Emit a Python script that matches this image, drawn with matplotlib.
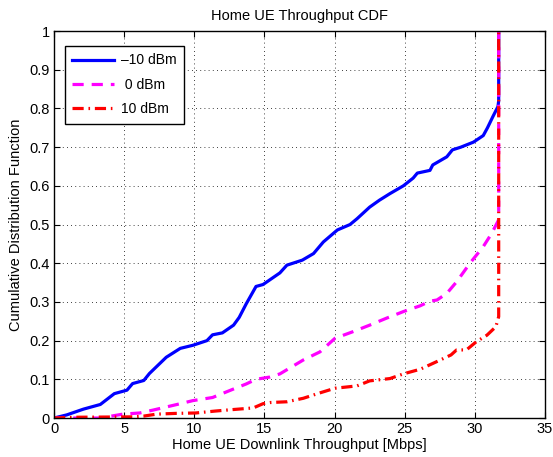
import matplotlib
matplotlib.use('Agg')
import matplotlib.pyplot as plt

plt.rcParams['font.family'] = ['Liberation Sans', 'DejaVu Sans']

# -10 dBm
x_m10 = [0, 0.9, 2.1, 3.3, 4.3, 5.2, 5.6, 6.4, 6.8, 8.0, 9.0, 9.9, 10.9, 11.3, 12.0,
         12.8, 13.2, 13.7, 14.4, 14.9, 16.1, 16.6, 17.7, 18.5, 19.2, 20.2, 21.1, 21.6,
         22.5, 23.2, 23.95, 24.9, 25.6, 25.9, 26.8, 27.0, 28.0, 28.4, 29.0, 29.9, 30.6,
         30.9, 31.3, 31.65, 31.7, 31.7]
y_m10 = [0, 0.008, 0.023, 0.035, 0.063, 0.072, 0.089, 0.097, 0.115, 0.157, 0.18, 0.188,
         0.2, 0.215, 0.22, 0.24, 0.26, 0.295, 0.34, 0.345, 0.375, 0.395, 0.408, 0.425,
         0.455, 0.486, 0.5, 0.515, 0.545, 0.563, 0.58, 0.6, 0.62, 0.633, 0.64, 0.654,
         0.675, 0.693, 0.70, 0.713, 0.73, 0.75, 0.78, 0.805, 0.82, 1.0]

# 0 dBm
x_0 = [0, 3.3, 4.9, 6.1, 7.0, 9.0, 9.9, 11.3, 12.8, 13.7, 14.4, 15.4, 16.1, 17.77,
       18.96, 20.03, 21.3, 22.5, 23.7, 24.9, 26.1, 26.8, 27.3, 28.0, 28.7, 29.65, 30.6,
       31.2, 31.67, 31.7, 31.7]
y_0 = [0, 0, 0.01, 0.013, 0.02, 0.037, 0.045, 0.053, 0.075, 0.088, 0.1, 0.106, 0.114,
       0.15, 0.171, 0.206, 0.223, 0.24, 0.258, 0.275, 0.29, 0.302, 0.305, 0.322, 0.352,
       0.4, 0.443, 0.477, 0.51, 0.53, 1.0]

# 10 dBm
x_10 = [0, 1.6, 5.6, 6.4, 7.3, 8.7, 10.1, 11.5, 12.8, 14.2, 14.9, 15.4, 16.6, 17.77,
        18.96, 20.03, 21.6, 22.5, 23.95, 24.9, 26.1, 27.3, 28.3, 28.7, 29.4, 30.1,
        30.86, 31.5, 31.7, 31.7]
y_10 = [0, 0.002, 0.003, 0.005, 0.01, 0.012, 0.013, 0.018, 0.022, 0.026, 0.037, 0.04,
        0.042, 0.051, 0.065, 0.077, 0.083, 0.096, 0.102, 0.114, 0.126, 0.146, 0.163,
        0.176, 0.176, 0.197, 0.214, 0.236, 0.262, 1.0]

labels = ['\u201310 dBm', ' 0 dBm', '10 dBm']

fig = plt.figure(figsize=(5.53, 4.57), dpi=100)
ax = fig.add_axes([0.0977, 0.0853, 0.8878, 0.8467])

ax.plot(x_m10, y_m10, color='#0000ff', lw=2.3, ls='-', label=labels[0])
ax.plot(x_0, y_0, color='#ff00ff', lw=2.3, ls=(0, (3.5, 2.5)), label=labels[1])
ax.plot(x_10, y_10, color='#ff0000', lw=2.3, ls=(0, (3.5, 1.5, 0.5, 1.5)), label=labels[2])

ax.set_xlim(0, 35)
ax.set_ylim(0, 1)
ax.set_xticks(range(0, 36, 5))
ax.set_yticks([i / 10 for i in range(11)])
ax.set_yticklabels(['0', '0.1', '0.2', '0.3', '0.4', '0.5', '0.6', '0.7', '0.8', '0.9', '1'])
ax.grid(True, color='black', ls=(0, (1, 4)), lw=0.6)
ax.tick_params(direction='in', top=True, right=True, labelsize=10.5, length=4, pad=3)
for s in ax.spines.values():
    s.set_linewidth(1.0)

ax.set_title('Home UE Throughput CDF', fontsize=10.5, pad=8)
ax.set_xlabel('Home UE Downlink Throughput [Mbps]', fontsize=10.5, labelpad=1)
ax.set_ylabel('Cumulative Distribution Function', fontsize=10.5, labelpad=5)

leg = ax.legend(loc='upper left', bbox_to_anchor=(0.022, 0.962), fontsize=10,
                handlelength=3.0, handletextpad=0.5, fancybox=False, framealpha=1,
                edgecolor='black', borderaxespad=0, labelspacing=0.75, borderpad=0.55)
leg.get_frame().set_linewidth(1.0)

fig.savefig('out.png', dpi=100)
